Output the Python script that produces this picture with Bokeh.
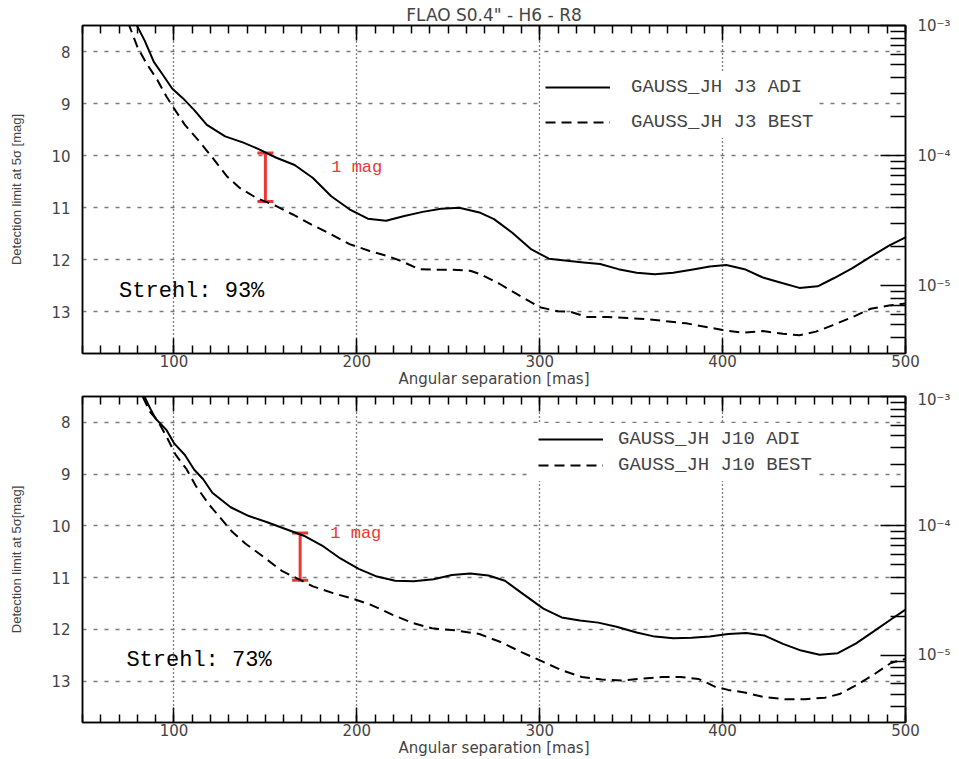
from bokeh.plotting import figure
from bokeh.models import (Range1d, LinearAxis, LogAxis, LogScale, FixedTicker,
                          SingleIntervalTicker, CustomJSTickFormatter, Legend,
                          LegendItem, Label, Whisker, ColumnDataSource, TeeHead)
from bokeh.layouts import column
from bokeh.embed import file_html
from bokeh.resources import INLINE

TITLE = 'FLAO S0.4" - H6 - R8'
X_LABEL = "Angular separation [mas]"
X_TICKS = [100, 200, 300, 400, 500]
Y_TICKS = [8, 9, 10, 11, 12, 13]
CONTRAST_MAJOR = [1e-3, 1e-4, 1e-5]
X_MIN, X_MAX = 50, 500
MAG_TOP, MAG_BOTTOM = 7.5, 13.8

# ---- top panel (Strehl 93%) ----
top_adi_x = [79, 84, 89, 94, 99, 105, 111, 118, 128, 138, 146, 156, 166, 176, 186, 196,
             206, 216, 226, 236, 246, 256, 267, 275, 285, 295, 305, 315, 324, 333, 343,
             353, 363, 373, 383, 393, 402, 412, 422, 432, 442, 452, 461, 471, 481, 491, 500]
top_adi_m = [7.45, 7.79, 8.2, 8.45, 8.71, 8.9, 9.12, 9.41, 9.63, 9.75, 9.87, 10.04, 10.18,
             10.43, 10.78, 11.03, 11.21, 11.25, 11.16, 11.08, 11.02, 11.0, 11.09, 11.22,
             11.48, 11.79, 11.98, 12.02, 12.05, 12.08, 12.18, 12.25, 12.28, 12.25, 12.19,
             12.13, 12.1, 12.18, 12.34, 12.44, 12.54, 12.51, 12.35, 12.16, 11.94, 11.73, 11.57]
top_best_x = [75, 80, 85, 91, 96, 100, 106, 114, 122, 129, 136, 145, 156, 165, 175, 186,
              196, 207, 216, 224, 234, 242, 251, 262, 267, 278, 289, 300, 310, 317, 326,
              337, 348, 359, 369, 380, 391, 400, 411, 422, 433, 442, 451, 460, 471, 481, 491, 500]
top_best_m = [7.45, 7.91, 8.23, 8.55, 8.87, 9.09, 9.41, 9.73, 10.08, 10.4, 10.62, 10.81,
              10.97, 11.13, 11.32, 11.51, 11.7, 11.83, 11.92, 12.02, 12.18, 12.19, 12.19,
              12.21, 12.27, 12.46, 12.69, 12.91, 12.99, 13.0, 13.1, 13.1, 13.12, 13.14, 13.18,
              13.22, 13.29, 13.35, 13.4, 13.37, 13.42, 13.45, 13.38, 13.26, 13.1, 12.94, 12.88, 12.84]
top_labels = ["GAUSS_JH J3 ADI", "GAUSS_JH J3 BEST"]
top_strehl = "Strehl: 93%"
top_bar = dict(x=[150], lo=[10.88], hi=[9.95])

# ---- bottom panel (Strehl 73%) ----
bot_adi_x = [84, 87, 90, 96, 100, 106, 111, 116, 121, 131, 141, 151, 161, 171, 181, 191,
             201, 211, 221, 231, 242, 252, 262, 272, 281, 291, 302, 312, 322, 332, 342, 353,
             363, 373, 383, 393, 403, 413, 423, 433, 443, 453, 463, 473, 483, 492, 500]
bot_adi_m = [7.51, 7.73, 7.93, 8.15, 8.4, 8.63, 8.91, 9.1, 9.36, 9.64, 9.81, 9.93, 10.06,
             10.19, 10.38, 10.63, 10.83, 10.98, 11.06, 11.07, 11.03, 10.95, 10.92, 10.96,
             11.06, 11.32, 11.6, 11.77, 11.83, 11.87, 11.95, 12.06, 12.14, 12.17, 12.16,
             12.14, 12.09, 12.07, 12.12, 12.28, 12.41, 12.49, 12.46, 12.27, 12.03, 11.81, 11.62]
bot_best_x = [83, 87, 91, 96, 101, 107, 112, 119, 125, 132, 139, 149, 159, 167, 176, 187,
              198, 208, 219, 230, 241, 254, 267, 279, 290, 302, 312, 323, 334, 345, 356,
              367, 377, 387, 396, 403, 412, 423, 434, 445, 456, 464, 473, 482, 492, 500]
bot_best_m = [7.51, 7.8, 7.96, 8.28, 8.63, 8.91, 9.23, 9.58, 9.83, 10.12, 10.34, 10.6,
              10.87, 11.01, 11.17, 11.3, 11.41, 11.53, 11.71, 11.87, 11.98, 12.02, 12.09,
              12.25, 12.44, 12.63, 12.79, 12.92, 12.97, 12.99, 12.95, 12.92, 12.92, 12.96,
              13.11, 13.17, 13.22, 13.31, 13.35, 13.35, 13.32, 13.25, 13.08, 12.89, 12.65, 12.57]
bot_labels = ["GAUSS_JH J10 ADI", "GAUSS_JH J10 BEST"]
bot_strehl = "Strehl: 73%"
bot_bar = dict(x=[169], lo=[11.05], hi=[10.14])

RED = "#ee3535"
MONO = "Liberation Mono"
SANS = "DejaVu Sans"

SUP_JS = """
const e = Math.round(Math.log10(tick));
const sup = {"-": "\u207b", "0": "\u2070", "1": "\u00b9", "2": "\u00b2", "3": "\u00b3",
             "4": "\u2074", "5": "\u2075", "6": "\u2076", "7": "\u2077", "8": "\u2078", "9": "\u2079"};
return "10" + String(e).split("").map(c => sup[c]).join("");
"""

AXIS_BOTTOM = 34


def panel(adi_x, adi_m, best_x, best_m, labels, strehl, strehl_pos, bar, mag_pos,
          ylabel, top_border, frame_h, title=None, legend_rows=(65, 100),
          legend_x=458, legend_spacing=13, legend_standoff=21):
    p = figure(width=959, height=top_border + frame_h + AXIS_BOTTOM,
               output_backend="svg", toolbar_location=None,
               tools="", x_range=Range1d(X_MIN, X_MAX),
               y_range=Range1d(MAG_BOTTOM, MAG_TOP),
               min_border_left=82, min_border_right=54, min_border_top=top_border,
               min_border_bottom=AXIS_BOTTOM, x_axis_location=None, y_axis_location=None,
               background_fill_color="white", border_fill_color="white")
    if title:
        p.title.text = title
        p.title.align = "center"
        p.title.text_font = SANS
        p.title.text_font_size = "17px"
        p.title.text_font_style = "normal"
        p.title.standoff = 2
    p.outline_line_color = "black"
    p.outline_line_width = 1.5

    # bottom axis
    xb = LinearAxis(ticker=SingleIntervalTicker(interval=100, num_minor_ticks=10),
                    axis_label=X_LABEL)
    # top axis (ticks only)
    xt = LinearAxis(ticker=SingleIntervalTicker(interval=100, num_minor_ticks=10),
                    formatter=CustomJSTickFormatter(code="return ''"))
    for ax in (xb, xt):
        ax.major_tick_in = 15
        ax.major_tick_out = 0
        ax.minor_tick_in = 8
        ax.minor_tick_out = 0
        ax.major_tick_line_width = 1.5
        ax.minor_tick_line_width = 1.5
        ax.axis_line_width = 1.5
        ax.major_label_text_font = SANS
        ax.major_label_text_font_size = "15px"
        ax.major_label_standoff = 1
        ax.axis_label_text_font = SANS
        ax.axis_label_text_font_size = "15px"
        ax.axis_label_text_font_style = "normal"
        ax.axis_label_standoff = 0
    xt.major_label_text_font_size = "0px"
    xt.major_label_standoff = 0
    p.add_layout(xb, "below")
    p.add_layout(xt, "above")

    # left magnitude axis
    yl = LinearAxis(ticker=FixedTicker(ticks=Y_TICKS, minor_ticks=[]), axis_label=ylabel)
    yl.major_tick_in = 0
    yl.major_tick_out = 0
    yl.axis_line_width = 1.5
    yl.major_label_text_font = SANS
    yl.major_label_text_font_size = "15px"
    yl.major_label_standoff = 12
    yl.axis_label_text_font = "Liberation Sans"
    yl.axis_label_text_font_size = "13px"
    yl.axis_label_text_font_style = "normal"
    yl.axis_label_standoff = 24
    p.add_layout(yl, "left")

    # right contrast axis (log)
    p.extra_y_ranges = {"contrast": Range1d(10 ** (-MAG_BOTTOM / 2.5), 10 ** (-MAG_TOP / 2.5))}
    p.extra_y_scales = {"contrast": LogScale()}
    minors = [m * 10.0 ** e for e in (-6, -5, -4) for m in range(2, 10)]
    yr = LogAxis(y_range_name="contrast",
                 ticker=FixedTicker(ticks=CONTRAST_MAJOR, minor_ticks=minors),
                 formatter=CustomJSTickFormatter(code=SUP_JS))
    yr.major_tick_in = 25
    yr.major_tick_out = 0
    yr.minor_tick_in = 15
    yr.minor_tick_out = 0
    yr.major_tick_line_width = 1.5
    yr.minor_tick_line_width = 1.5
    yr.axis_line_width = 1.5
    yr.major_label_text_font = SANS
    yr.major_label_text_font_size = "15px"
    yr.major_label_standoff = 12
    p.add_layout(yr, "right")

    # grids
    p.xgrid.ticker = FixedTicker(ticks=[100, 200, 300, 400])
    p.xgrid.grid_line_color = "black"
    p.xgrid.grid_line_dash = "1 3"
    p.xgrid.grid_line_width = 1.3
    p.ygrid.ticker = FixedTicker(ticks=Y_TICKS)
    p.ygrid.grid_line_color = "#7a7a7a"
    p.ygrid.grid_line_dash = "4 7"
    p.ygrid.grid_line_width = 1.3

    r1 = p.line(adi_x, adi_m, line_color="black", line_width=2)
    r2 = p.line(best_x, best_m, line_color="black", line_width=2, line_dash="10 6")

    # 1 mag bar
    src = ColumnDataSource(dict(x=bar["x"], lo=bar["lo"], hi=bar["hi"]))
    wh = Whisker(source=src, base="x", upper="hi", lower="lo", dimension="height",
                 line_color=RED, line_width=3,
                 upper_head=TeeHead(size=16, line_color=RED, line_width=3),
                 lower_head=TeeHead(size=16, line_color=RED, line_width=3))
    p.add_layout(wh)
    p.add_layout(Label(x=mag_pos[0], y=mag_pos[1], text="1 mag", text_color=RED,
                       text_font=MONO, text_font_size="17px", text_baseline="middle"))
    p.add_layout(Label(x=strehl_pos[0], y=strehl_pos[1], text=strehl, text_color="black",
                       text_font=MONO, text_font_size="22px", text_baseline="middle"))

    # legend
    row_h = 22
    n = 2
    pad = 5
    leg_h = 2 * pad + n * row_h + (n - 1) * legend_spacing
    top_of_leg = legend_rows[0] - row_h / 2 - pad
    leg = Legend(items=[LegendItem(label=labels[0], renderers=[r1]),
                        LegendItem(label=labels[1], renderers=[r2])],
                 location=(legend_x, frame_h - top_of_leg - leg_h),
                 glyph_width=65, glyph_height=row_h, label_height=row_h,
                 label_standoff=legend_standoff, spacing=legend_spacing, padding=pad,
                 margin=0, border_line_alpha=0, background_fill_color="white",
                 background_fill_alpha=1.0, label_text_font=MONO,
                 label_text_font_size="19px")
    p.add_layout(leg)
    return p


p1 = panel(top_adi_x, top_adi_m, top_best_x, top_best_m, top_labels, top_strehl,
           (70, 12.61), top_bar, (186, 10.22), "Detection limit at 5\u03c3 [mag]",
           top_border=25, frame_h=331, title=TITLE,
           legend_rows=(65, 100), legend_x=458, legend_spacing=13, legend_standoff=21)
p2 = panel(bot_adi_x, bot_adi_m, bot_best_x, bot_best_m, bot_labels, bot_strehl,
           (74, 12.6), bot_bar, (185.5, 10.15), "Detection limit at 5\u03c3[mag]",
           top_border=6, frame_h=329,
           legend_rows=(46, 72), legend_x=451, legend_spacing=4, legend_standoff=15)

layout = column(p1, p2, spacing=0)
open("out.html", "w").write(file_html(layout, INLINE))
